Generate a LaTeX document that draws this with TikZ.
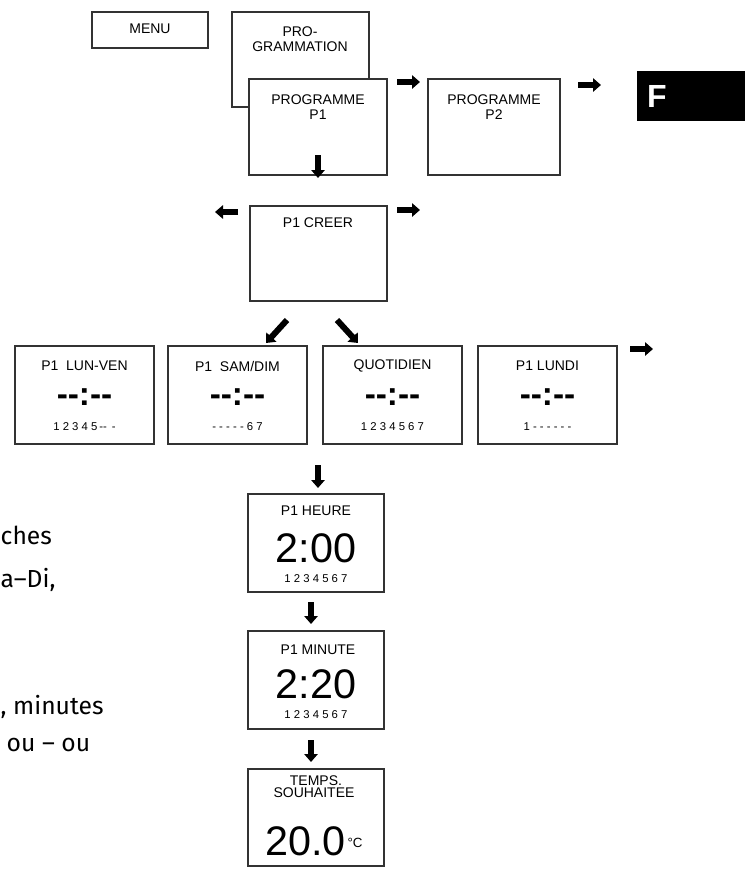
\documentclass[tikz,border=0pt]{standalone}
\usepackage{fontspec}
\setmainfont{Liberation Sans}
\newfontfamily\sidefont{Fira Sans}
\usetikzlibrary{arrows.meta}
\begin{document}
\begin{tikzpicture}[x=0.75pt,y=-0.75pt,
 box/.style={draw=black!80,line width=1.3pt,fill=white},
 blk/.style={line width=4.5pt,-{Triangle[length=6pt,width=10pt]}},
 ttl/.style={font=\fontsize{10.5}{11}\selectfont},
 dsh/.style={font=\fontsize{25}{25}\selectfont\bfseries},
 nums/.style={font=\fontsize{8.5}{9}\selectfont},
 big/.style={font=\fontsize{31}{31}\selectfont},
 side/.style={font=\sidefont\fontsize{18.5}{19}\selectfont,anchor=west}]
\useasboundingbox (0,0) rectangle (745,871);
% top row
\draw[box] (92,12) rectangle (208,48); \node[ttl] (menu) at (150,29) {MENU};
\draw[box] (232,12) rectangle (369,107);
\node[ttl,align=center] (prog) at (300,39) {PRO-\\GRAMMATION};
\draw[box] (249,79) rectangle (387,175);
\node[ttl,align=center] (p1) at (318,107) {PROGRAMME\\P1};
\draw[box] (428,79) rectangle (560,175);
\node[ttl,align=center] (p2) at (494,107) {PROGRAMME\\P2};
\fill (637,71) rectangle (745,121);
\node[font=\fontsize{24}{24}\selectfont\bfseries,text=white] (f) at (657,96) {F};
\coordinate (a1s) at (397,82); \coordinate (a1e) at (420,82);
\draw[blk] (a1s) -- (a1e);
\coordinate (a2s) at (578,85); \coordinate (a2e) at (601,85);
\draw[blk] (a2s) -- (a2e);
\coordinate (a3s) at (318,155); \coordinate (a3e) at (318,178);
\draw[blk] (a3s) -- (a3e);
% creer
\draw[box] (250,206) rectangle (387,301);
\node[ttl] (creer) at (318,223) {P1 CREER};
\coordinate (a4s) at (238,212); \coordinate (a4e) at (215,212);
\draw[blk] (a4s) -- (a4e);
\coordinate (a5s) at (397,210); \coordinate (a5e) at (420,210);
\draw[blk] (a5s) -- (a5e);
\coordinate (a6s) at (287,320); \coordinate (a6e) at (266,343);
\draw[blk] (a6s) -- (a6e);
\coordinate (a7s) at (337,320); \coordinate (a7e) at (358,343);
\draw[blk] (a7s) -- (a7e);
% row of four
\foreach \x/\n/\t/\d in {15/lv/{P1\ \ LUN-VEN}/{1 2 3 4 5\,{-}{-}\, -},168/sd/{P1\ \ SAM/DIM}/{- - - - - 6 7},323/qt/{QUOTIDIEN}/{1 2 3 4 5 6 7},478/lu/{P1 LUNDI}/{1 - - - - - -}}{
 \draw[box] (\x,346) rectangle ++(139,98);
 \node[ttl] (t\n) at (\x+69.5,366) {\t};
 \node[dsh] (d\n) at (\x+69.5,397) {{-}{-}:{-}{-}};
 \node[nums] (n\n) at (\x+69.5,427) {\d};
}
\coordinate (a8s) at (630,349); \coordinate (a8e) at (653,349);
\draw[blk] (a8s) -- (a8e);
\coordinate (a9s) at (318,465); \coordinate (a9e) at (318,488);
\draw[blk] (a9s) -- (a9e);
% heure
\draw[box] (248,494) rectangle (384,592);
\node[ttl] (h1) at (316,511) {P1 HEURE};
\node[big] (h2) at (316,548) {2:00};
\node[nums] (h3) at (316,579) {1 2 3 4 5 6 7};
\coordinate (b1s) at (311,602); \coordinate (b1e) at (311,624);
\draw[blk] (b1s) -- (b1e);
\draw[box] (248,631) rectangle (384,729);
\node[ttl] (m1) at (318,650) {P1 MINUTE};
\node[big] (m2) at (316,684) {2:20};
\node[nums] (m3) at (316,715) {1 2 3 4 5 6 7};
\coordinate (b2s) at (311,740); \coordinate (b2e) at (311,762);
\draw[blk] (b2s) -- (b2e);
\draw[box] (248,769) rectangle (384,866);
\node[ttl] (s1) at (316,781) {TEMPS.};
\node[ttl] (s2) at (314,793) {SOUHAITEE};
\node[anchor=base east,big,inner sep=0pt] (s3) at (346,855) {20.0};
\node[anchor=base west,font=\fontsize{10}{10}\selectfont,inner sep=1pt] (s4) at (346,847) {°C};
% side text
\node[side] (x1) at (-4,535) {ches};
\node[side] (x2) at (-4,580) {a–Di,};
\node[side] (x3) at (-4,707) {, minutes};
\node[side] (x4) at (2,745) {ou – ou};
\end{tikzpicture}
\end{document}
